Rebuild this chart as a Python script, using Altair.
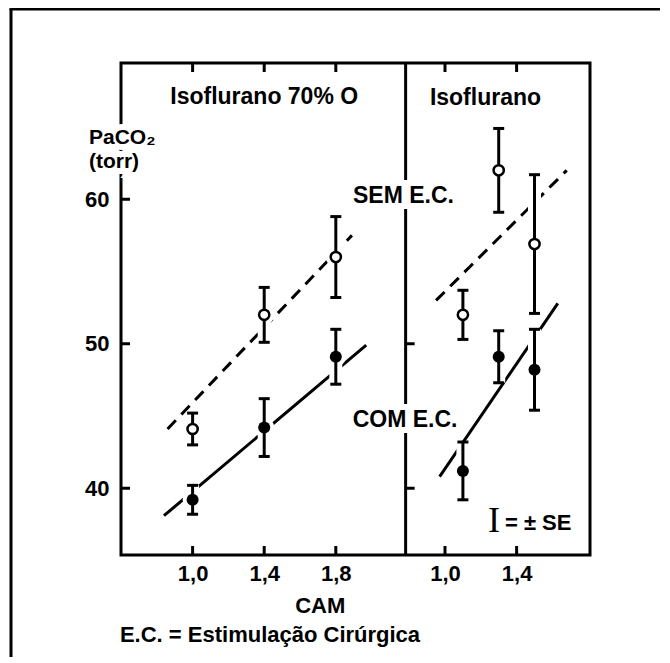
import altair as alt
import pandas as pd

# ---------------- data ----------------
left_cam = [1.0, 1.4, 1.8]
left_sem_mean = [44.1, 52.0, 56.0]
left_sem_se = [1.1, 1.9, 2.8]
left_com_mean = [39.2, 44.2, 49.1]
left_com_se = [1.0, 2.0, 1.9]

right_cam = [1.1, 1.3, 1.5]
right_sem_mean = [52.0, 62.0, 56.9]
right_sem_se = [1.7, 2.9, 4.8]
right_com_mean = [41.2, 49.1, 48.2]
right_com_se = [2.0, 1.8, 2.8]

# fitted lines (end points)
left_sem_fit_x = [0.86, 1.89]
left_sem_fit_y = [44.1, 57.5]
left_com_fit_x = [0.84, 1.97]
left_com_fit_y = [38.1, 49.9]
right_sem_fit_x = [0.95, 1.68]
right_sem_fit_y = [53.0, 62.0]
right_com_fit_x = [0.97, 1.63]
right_com_fit_y = [40.8, 52.8]

left_ticks = [1.0, 1.4, 1.8]
right_ticks = [1.0, 1.4]
y_ticks = [40, 50, 60]

panel_titles = ["Isoflurano 70% O", "Isoflurano"]

# panel x-domains (CAM) and y-domain (torr)
LEFT_DOMAIN = [0.6, 2.19]
RIGHT_DOMAIN = [0.78, 1.81]
Y_DOMAIN = [35.38, 69.43]
OFFSET = {"left": 0.0, "right": LEFT_DOMAIN[1] - RIGHT_DOMAIN[0]}
X_DOMAIN = [LEFT_DOMAIN[0], RIGHT_DOMAIN[1] + OFFSET["right"]]
DIVIDER = LEFT_DOMAIN[1]

# ---------------- tables ----------------
rows = []
for panel, cams, sm, ss, cm, cs in [
    ("left", left_cam, left_sem_mean, left_sem_se, left_com_mean, left_com_se),
    ("right", right_cam, right_sem_mean, right_sem_se, right_com_mean, right_com_se),
]:
    for c, m, s in zip(cams, sm, ss):
        rows.append(dict(panel=panel, cam=c, mean=m, se=s, group="SEM"))
    for c, m, s in zip(cams, cm, cs):
        rows.append(dict(panel=panel, cam=c, mean=m, se=s, group="COM"))
pts = pd.DataFrame(rows)
pts["xc"] = pts["cam"] + pts["panel"].map(OFFSET)
pts["lo"] = pts["mean"] - pts["se"]
pts["hi"] = pts["mean"] + pts["se"]

frows = []
for panel, group, xs, ys in [
    ("left", "SEM", left_sem_fit_x, left_sem_fit_y),
    ("left", "COM", left_com_fit_x, left_com_fit_y),
    ("right", "SEM", right_sem_fit_x, right_sem_fit_y),
    ("right", "COM", right_com_fit_x, right_com_fit_y),
]:
    for x, y in zip(xs, ys):
        frows.append(dict(panel=panel, group=group, id=panel + group, xc=x + OFFSET[panel], val=y))
fits = pd.DataFrame(frows)

xt = pd.DataFrame({"xc": [v + OFFSET["left"] for v in left_ticks] + [v + OFFSET["right"] for v in right_ticks]})
xt["y0"] = Y_DOMAIN[0]
xt["y1"] = Y_DOMAIN[1]
yt = pd.DataFrame({"val": y_ticks})
yt["x0"] = X_DOMAIN[0]
yt["xd"] = DIVIDER
div = pd.DataFrame({"xc": [DIVIDER]})


def ann(items):
    d = pd.DataFrame(items, columns=["text", "panel", "cam", "val"])
    d["xc"] = d["cam"] + d["panel"].map(OFFSET)
    return d


center_txt = ann([
    (panel_titles[0], "left", 1.40, 67.1),
    (panel_titles[1], "right", 1.226, 67.0),
])
halo_center_txt = ann([
    ("SEM E.C.", "left", 2.178, 60.2),
    ("COM E.C.", "left", 2.187, 44.73),
])
left_txt = ann([
    ("= ± SE", "right", 1.335, 37.6),
    ("E.C. = Estimulação Cirúrgica", "left", 0.594, 29.85),
])
halo_left_txt = ann([
    ("PaCO₂", "left", 0.421, 64.24),
    ("(torr)", "left", 0.421, 62.6),
])
key_txt = ann([("I", "right", 1.274, 37.75)])

# ---------------- encodings ----------------
XS = alt.Scale(domain=X_DOMAIN, nice=False, zero=False)
YS = alt.Scale(domain=Y_DOMAIN, nice=False, zero=False)
off = OFFSET["right"]
XAX = alt.Axis(
    values=list(xt["xc"]),
    labelExpr=f"replace(format(datum.value > {DIVIDER} ? datum.value - {off} : datum.value, '.1f'), '.', ',')",
    labelPadding=8,
    title="CAM",
    titleX=198.7,
    titleY=50,
    titleAlign="center",
    titleBaseline="middle",
)
YAX = alt.Axis(values=y_ticks, labelPadding=12, title=None, format="d")


def X(f):
    return alt.X(f, type="quantitative", scale=XS, axis=XAX)


def Y(f):
    return alt.Y(f, type="quantitative", scale=YS, axis=YAX)


FONT = "Liberation Sans"
LW = 3

sem_fit = alt.Chart(fits[fits.group == "SEM"]).mark_line(
    color="black", strokeWidth=LW, strokeDash=[12, 8]
).encode(x=X("xc"), y=Y("val"), detail="id:N")
com_fit = alt.Chart(fits[fits.group == "COM"]).mark_line(
    color="black", strokeWidth=LW
).encode(x=X("xc"), y=Y("val"), detail="id:N")

divider = alt.Chart(div).mark_rule(color="black", strokeWidth=LW).encode(x=X("xc"))

halo_bar = alt.Chart(pts).mark_rule(color="white", strokeWidth=13).encode(
    x=X("xc"), y=Y("lo"), y2="hi:Q")
halo_pt = alt.Chart(pts).mark_circle(color="white", opacity=1, size=400).encode(
    x=X("xc"), y=Y("mean"))

bars = alt.Chart(pts).mark_rule(color="black", strokeWidth=LW).encode(
    x=X("xc"), y=Y("lo"), y2="hi:Q")
cap_lo = alt.Chart(pts).mark_rule(color="black", strokeWidth=LW, xOffset=-5.5, x2Offset=5.5).encode(
    x=X("xc"), x2="xc:Q", y=Y("lo"))
cap_hi = alt.Chart(pts).mark_rule(color="black", strokeWidth=LW, xOffset=-5.5, x2Offset=5.5).encode(
    x=X("xc"), x2="xc:Q", y=Y("hi"))

open_pts = alt.Chart(pts[pts.group == "SEM"]).mark_point(
    shape="circle", filled=True, fill="white", stroke="black", strokeWidth=2.5, size=105, opacity=1
).encode(x=X("xc"), y=Y("mean"))
fill_pts = alt.Chart(pts[pts.group == "COM"]).mark_circle(
    color="black", size=145, opacity=1
).encode(x=X("xc"), y=Y("mean"))

tick_bottom = alt.Chart(xt).mark_rule(color="black", strokeWidth=LW, y2Offset=-9).encode(
    x=X("xc"), y=Y("y0"), y2="y0:Q")
tick_top = alt.Chart(xt).mark_rule(color="black", strokeWidth=LW, y2Offset=9).encode(
    x=X("xc"), y=Y("y1"), y2="y1:Q")
tick_left = alt.Chart(yt).mark_rule(color="black", strokeWidth=LW, x2Offset=9).encode(
    x=X("x0"), x2="x0:Q", y=Y("val"))
tick_div = alt.Chart(yt).mark_rule(color="black", strokeWidth=LW, x2Offset=9).encode(
    x=X("xd"), x2="xd:Q", y=Y("val"))


def txt(df, align, halo=False, size=22, font=FONT, weight="bold"):
    kw = dict(align=align, baseline="middle", font=font, fontSize=size, fontWeight=weight)
    layers = []
    if halo:
        layers.append(alt.Chart(df).mark_text(color="white", stroke="white", strokeWidth=12, **kw).encode(
            x=X("xc"), y=Y("val"), text="text:N"))
    layers.append(alt.Chart(df).mark_text(color="black", **kw).encode(
        x=X("xc"), y=Y("val"), text="text:N"))
    return layers


one = pd.DataFrame({"k": [0]})
frame_left = alt.Chart(one).mark_rule(color="black", strokeWidth=3).encode(
    x=alt.value(-110), y=alt.value(-54), y2=alt.value(610))
frame_top = alt.Chart(one).mark_rule(color="black", strokeWidth=3).encode(
    x=alt.value(-111.5), x2=alt.value(545), y=alt.value(-54))

layers = [sem_fit, com_fit, divider, halo_bar, halo_pt, bars, cap_lo, cap_hi, open_pts, fill_pts,
          tick_bottom, tick_top, tick_left, tick_div]
layers += txt(center_txt, "center", size=23)
layers += txt(halo_center_txt, "center", halo=True, size=23)
layers += txt(left_txt, "left", size=22)
layers += txt(halo_left_txt, "left", halo=True, size=21)
layers += txt(key_txt, "center", size=36, font="Liberation Serif", weight="normal")
layers += [frame_left, frame_top]

chart = alt.layer(*layers).properties(
    width=469,
    height=492,
    padding={"left": 113, "top": 55, "right": 70, "bottom": 102},
    autosize=alt.AutoSizeParams(type="none"),
    background="white",
).configure_view(
    stroke="black", strokeWidth=3
).configure_axis(
    grid=False, domain=False, ticks=False,
    labelFont=FONT, labelFontSize=22, labelFontWeight="bold", labelColor="black",
    titleFont=FONT, titleFontSize=22, titleFontWeight="bold", titleColor="black",
)

chart.save("out.html", embed_options={"renderer": "svg", "actions": False})
